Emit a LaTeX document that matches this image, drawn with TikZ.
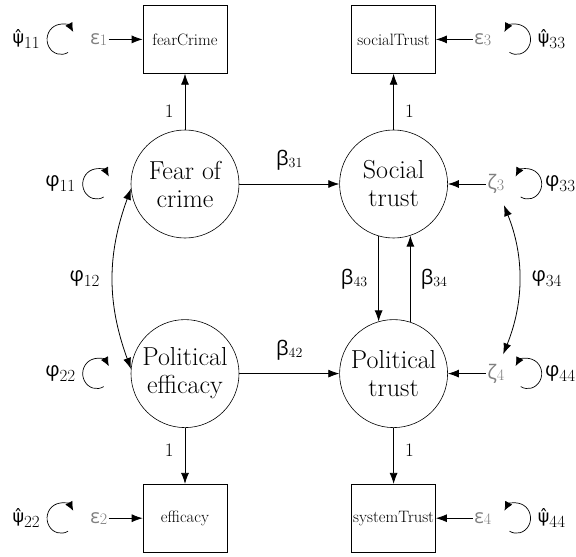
\documentclass[tikz,border=0pt]{standalone}
\usepackage{fontspec}
\newfontfamily\gk{Open Sans}
\newfontfamily\dv{DejaVu Sans}
\usetikzlibrary{arrows.meta, positioning, calc}
\newcommand{\lsub}[1]{\raisebox{-5pt}{\rmfamily\fontsize{17}{17}\selectfont #1}}
\newcommand{\ssub}[1]{\raisebox{-2pt}{\rmfamily\fontsize{14}{14}\selectfont #1}}
\newcommand{\esub}[1]{\raisebox{-1pt}{\rmfamily\fontsize{16}{16}\selectfont #1}}
\newcommand{\hatpsi}{{\dv\fontsize{17.5}{17.5}\selectfont ψ^^^^0302}}

\begin{document}
\begin{tikzpicture}[>={Latex[length=11pt,width=8pt]}, line width=0.8pt,
    latent/.style={draw, circle, line width=0.6pt, minimum size=108pt, inner sep=0pt, align=center, font=\fontsize{26}{28}\selectfont},
    manifest/.style={draw, line width=0.6pt, minimum width=84pt, minimum height=68pt, inner sep=0pt, font=\fontsize{16.5}{18}\selectfont},
    resid/.style={inner sep=1pt, text=black!50, font=\gk\fontsize{20}{20}\selectfont},
    param/.style={inner sep=1pt, font=\gk\fontsize{20}{20}\selectfont},
    one/.style={inner sep=1pt, font=\fontsize{19}{19}\selectfont},
    varloop/.style={-{Latex[length=9pt,width=8pt]}, line width=0.7pt}]
    \useasboundingbox (-185pt,-373pt) rectangle (391pt,184pt);

    % latent variables
    \node[latent] (fear) at (0,0) {Fear of\\crime};
    \node[latent, right=100pt of fear] (social) {Social\\trust};
    \node[latent, below=81pt of fear] (poleff) {Political\\efficacy};
    \node[latent, below=81pt of social] (poltrust) {Political\\trust};

    % indicators
    \node[manifest, above=56pt of fear] (fearCrime) {fearCrime};
    \node[manifest, above=56pt of social] (socialTrust) {socialTrust};
    \node[manifest, below=56pt of poleff] (efficacy) {efficacy};
    \node[manifest, below=56pt of poltrust] (systemTrust) {systemTrust};

    % errors and disturbances
    \node[resid, left=34pt of fearCrime] (e1) {ε\esub{1}};
    \node[resid, right=37pt of socialTrust] (e3) {ε\esub{3}};
    \node[resid, left=34pt of efficacy] (e2) {ε\esub{2}};
    \node[resid, right=37pt of systemTrust] (e4) {ε\esub{4}};
    \node[resid, right=38pt of social] (z3) {ζ\esub{3}};
    \node[resid, right=38pt of poltrust] (z4) {ζ\esub{4}};

    % loop centres
    \coordinate[left=28pt of e1] (le1);
    \coordinate[left=28pt of e2] (le2);
    \coordinate[right=24pt of e3] (le3);
    \coordinate[right=24pt of e4] (le4);
    \coordinate[right=22pt of z3] (lz3);
    \coordinate[right=22pt of z4] (lz4);
    \coordinate[left=34pt of fear] (lf1);
    \coordinate[left=34pt of poleff] (lf2);

    % variances
    \node[param, left=20pt of le1] (psi11) {\hatpsi\lsub{11}};
    \node[param, left=20pt of le2] (psi22) {\hatpsi\lsub{22}};
    \node[param, right=20pt of le3] (psi33) {\hatpsi\lsub{33}};
    \node[param, right=20pt of le4] (psi44) {\hatpsi\lsub{44}};
    \node[param, right=16pt of lz3] (phi33) {φ\lsub{33}};
    \node[param, right=16pt of lz4] (phi44) {φ\lsub{44}};
    \node[param, left=20pt of lf1] (phi11) {φ\lsub{11}};
    \node[param, left=20pt of lf2] (phi22) {φ\lsub{22}};

    \foreach \c in {le1, le2, lf1, lf2}
        \draw[varloop] ([shift={(-60:14pt and 15pt)}]\c) arc[start angle=-60, end angle=-330, x radius=14pt, y radius=15pt];
    \foreach \c in {le3, le4, lz3, lz4}
        \draw[varloop] ([shift={(240:14pt and 15pt)}]\c) arc[start angle=240, end angle=510, x radius=14pt, y radius=15pt];

    % structural paths
    \draw[->] (fear) -- node[param, above=12pt] {β\ssub{31}} (social);
    \draw[->] (poleff) -- node[param, above=12pt] {β\ssub{42}} (poltrust);
    \draw[->] (social.254) -- node[param, left=10pt] {β\ssub{43}} (poltrust.106);
    \draw[->] (poltrust.72) -- node[param, right=9pt] {β\ssub{34}} (social.288);

    % loadings
    \draw[->] (fear) -- node[one, left=10pt, pos=0.33] {1} (fearCrime);
    \draw[->] (social) -- node[one, right=10pt, pos=0.33] {1} (socialTrust);
    \draw[->] (poleff) -- node[one, left=10pt, pos=0.4] {1} (efficacy);
    \draw[->] (poltrust) -- node[one, right=10pt, pos=0.4] {1} (systemTrust);

    \draw[->] (e1) -- (fearCrime);
    \draw[->] (e3) -- (socialTrust);
    \draw[->] (e2) -- (efficacy);
    \draw[->] (e4) -- (systemTrust);
    \draw[->] (z3) -- (social);
    \draw[->] (z4) -- (poltrust);

    % covariances
    \draw[<->] (fear.185) to[bend right=20] node[param, left=12pt] {φ\lsub{12}} (poleff.175);
    \draw[<->, shorten <=11pt, shorten >=9pt] (z3.290) to[bend left=22] node[param, right=12pt] {φ\lsub{34}} (z4.70);
\end{tikzpicture}
\end{document}
